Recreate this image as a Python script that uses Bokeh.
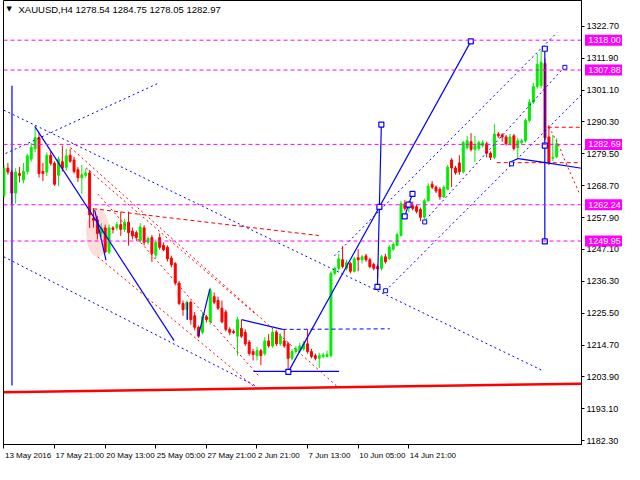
from bokeh.plotting import figure
from bokeh.models import FixedTicker, PrintfTickFormatter, Label, Range1d, Span, ColumnDataSource
from bokeh.core.properties import value
from bokeh.embed import file_html
from bokeh.resources import INLINE

# ---------------- data (XAUUSD H4) ----------------
opens = [
    1265.3, 1274.6, 1273.3, 1266.2, 1272.8, 1270.6, 1273.5, 1277.7, 1281.2, 1285.0,
    1273.5, 1273.3, 1279.0, 1276.3, 1272.2, 1276.8, 1274.9, 1279.0, 1277.4, 1274.1,
    1271.4, 1272.2, 1273.0, 1257.7, 1257.1, 1252.5, 1254.4, 1246.2, 1254.4, 1254.4,
    1255.5, 1253.9, 1256.3, 1253.3, 1252.8, 1250.1, 1254.4, 1249.5, 1251.1, 1245.2,
    1251.1, 1248.5, 1247.8, 1244.2, 1242.3, 1235.7, 1228.8, 1226.7, 1229.2, 1224.6,
    1220.7, 1219.0, 1224.3, 1222.6, 1231.1, 1229.8, 1227.2, 1225.9, 1220.0, 1219.3,
    1217.7, 1220.3, 1219.0, 1215.7, 1212.5, 1211.1, 1212.8, 1211.8, 1216.1, 1214.4,
    1219.0, 1215.1, 1216.1, 1215.1, 1210.2, 1212.5, 1212.8, 1213.4, 1215.1, 1212.5,
    1211.1, 1210.2, 1210.8, 1210.8, 1211.1, 1239.0, 1240.7, 1243.6, 1240.7, 1242.3,
    1239.7, 1244.3, 1243.6, 1244.9, 1243.6, 1242.0, 1241.3, 1240.7, 1244.6, 1243.9,
    1247.2, 1248.5, 1251.8, 1262.6, 1261.0, 1261.9, 1261.6, 1260.6, 1258.0, 1263.6,
    1269.2, 1268.2, 1267.5, 1264.9, 1267.5, 1277.4, 1274.7, 1276.4, 1273.4, 1281.6,
    1283.6, 1281.0, 1281.3, 1282.3, 1282.9, 1279.7, 1278.3, 1286.2, 1285.9, 1285.2,
    1282.9, 1285.6, 1281.6, 1283.3, 1283.9, 1290.8, 1297.0, 1302.3, 1302.6, 1310.1,
    1285.2, 1278.0, 1278.54]
highs = [
    1275.7, 1276.4, 1274.0, 1274.6, 1275.0, 1276.4, 1279.5, 1283.2, 1288.3, 1286.6,
    1276.4, 1280.0, 1280.3, 1277.0, 1278.5, 1282.3, 1281.2, 1281.2, 1278.5, 1275.0,
    1275.7, 1274.5, 1274.0, 1261.0, 1258.5, 1256.0, 1255.5, 1255.5, 1255.0, 1256.5,
    1259.9, 1257.5, 1259.9, 1254.5, 1253.5, 1256.0, 1255.3, 1251.5, 1252.0, 1250.5,
    1252.5, 1249.5, 1248.5, 1245.0, 1242.8, 1236.4, 1229.8, 1229.8, 1229.8, 1225.9,
    1221.3, 1225.9, 1224.9, 1234.1, 1232.5, 1231.1, 1229.8, 1226.6, 1220.7, 1220.0,
    1224.3, 1223.3, 1220.0, 1216.4, 1213.4, 1214.1, 1213.4, 1217.4, 1218.4, 1220.0,
    1219.7, 1218.7, 1220.0, 1215.7, 1213.4, 1214.4, 1215.4, 1216.1, 1220.0, 1213.4,
    1211.8, 1212.1, 1212.1, 1212.8, 1239.7, 1241.3, 1245.6, 1248.2, 1243.6, 1242.9,
    1244.6, 1247.2, 1245.2, 1245.6, 1244.3, 1242.6, 1242.0, 1245.2, 1245.6, 1248.5,
    1249.5, 1252.8, 1263.6, 1263.9, 1263.6, 1263.3, 1262.3, 1261.3, 1264.3, 1269.5,
    1270.3, 1268.8, 1268.2, 1268.8, 1275.7, 1278.0, 1275.4, 1279.0, 1283.9, 1285.6,
    1286.5, 1285.6, 1283.9, 1284.2, 1283.6, 1280.3, 1289.5, 1286.9, 1286.5, 1285.9,
    1286.2, 1286.2, 1284.9, 1284.6, 1291.5, 1298.0, 1303.6, 1313.4, 1314.4, 1311.8,
    1289.2, 1285.9, 1284.75]
lows = [
    1264.3, 1272.4, 1262.4, 1262.6, 1269.8, 1269.5, 1272.5, 1276.8, 1280.0, 1271.5,
    1270.3, 1272.0, 1275.5, 1268.6, 1268.6, 1273.5, 1273.8, 1276.5, 1272.8, 1270.0,
    1265.9, 1271.5, 1254.4, 1254.5, 1250.5, 1251.5, 1246.0, 1245.5, 1252.5, 1253.5,
    1251.7, 1253.0, 1248.4, 1250.5, 1250.0, 1249.5, 1248.5, 1248.8, 1242.9, 1244.0,
    1247.0, 1246.5, 1243.0, 1241.0, 1234.9, 1228.2, 1224.6, 1223.3, 1221.6, 1219.7,
    1217.1, 1218.4, 1222.3, 1221.6, 1228.5, 1226.6, 1222.0, 1219.3, 1218.0, 1218.4,
    1211.1, 1217.1, 1214.4, 1211.1, 1209.5, 1209.5, 1207.9, 1211.1, 1213.8, 1213.8,
    1214.4, 1214.4, 1213.8, 1205.9, 1209.5, 1211.8, 1212.1, 1212.8, 1211.8, 1210.2,
    1209.5, 1206.9, 1210.2, 1210.5, 1210.5, 1238.4, 1240.0, 1240.7, 1240.0, 1239.0,
    1239.3, 1239.7, 1242.3, 1242.9, 1240.7, 1240.0, 1237.4, 1240.0, 1242.3, 1243.6,
    1246.6, 1248.2, 1251.5, 1260.3, 1259.7, 1260.3, 1259.3, 1256.7, 1257.4, 1263.3,
    1267.5, 1266.2, 1263.9, 1264.6, 1267.2, 1268.2, 1272.4, 1272.4, 1272.8, 1280.9,
    1280.3, 1276.7, 1280.6, 1281.6, 1278.3, 1277.4, 1277.7, 1284.9, 1283.6, 1282.3,
    1282.3, 1280.6, 1278.0, 1282.6, 1283.3, 1290.1, 1296.4, 1301.6, 1301.6, 1284.2,
    1275.7, 1277.0, 1278.05]
closes = [
    1274.6, 1273.3, 1266.2, 1273.3, 1272.2, 1273.5, 1278.8, 1281.7, 1285.0, 1272.8,
    1272.8, 1279.0, 1276.3, 1269.2, 1277.7, 1274.6, 1278.8, 1277.0, 1273.5, 1271.4,
    1272.4, 1273.0, 1258.8, 1257.0, 1252.5, 1254.4, 1246.2, 1254.4, 1253.9, 1255.5,
    1253.9, 1256.3, 1252.8, 1251.7, 1251.1, 1254.7, 1249.5, 1250.8, 1245.7, 1249.5,
    1247.8, 1247.0, 1243.9, 1241.9, 1235.7, 1228.8, 1226.7, 1229.2, 1223.3, 1220.7,
    1217.7, 1224.3, 1223.3, 1233.1, 1229.2, 1227.2, 1222.6, 1220.0, 1219.0, 1218.9,
    1223.3, 1217.7, 1215.1, 1211.8, 1211.5, 1212.8, 1211.1, 1216.1, 1214.4, 1219.0,
    1215.1, 1217.7, 1214.4, 1210.2, 1212.5, 1213.4, 1214.4, 1215.1, 1212.5, 1210.8,
    1210.2, 1211.1, 1211.3, 1211.5, 1239.0, 1240.7, 1243.9, 1241.3, 1242.6, 1239.7,
    1243.9, 1243.6, 1244.6, 1243.6, 1241.3, 1240.7, 1240.5, 1244.6, 1242.9, 1247.9,
    1248.8, 1252.1, 1262.6, 1261.0, 1262.6, 1261.0, 1260.0, 1258.0, 1263.6, 1268.5,
    1268.2, 1266.9, 1264.9, 1268.2, 1275.0, 1274.7, 1273.1, 1273.4, 1283.3, 1283.9,
    1281.0, 1282.3, 1283.3, 1283.3, 1279.7, 1278.3, 1286.2, 1285.6, 1285.2, 1282.9,
    1285.2, 1281.3, 1283.9, 1283.9, 1290.8, 1297.0, 1302.3, 1309.8, 1310.5, 1284.9,
    1276.4, 1278.3, 1282.97]

price_ticks = [1322.70, 1311.90, 1301.10, 1290.30, 1279.50, 1268.70, 1257.90,
               1247.10, 1236.30, 1225.50, 1214.70, 1203.90, 1193.10, 1182.30]
time_tick_bars = [0, 13, 26, 39, 52, 65, 78, 91, 104]
time_tick_labels = ["13 May 2016", "17 May 21:00", "20 May 13:00", "25 May 05:00",
                    "27 May 21:00", "2 Jun 21:00", "7 Jun 13:00", "10 Jun 05:00",
                    "14 Jun 21:00"]
level_prices = [1318.00, 1307.88, 1282.69, 1262.24, 1249.95]
level_texts = ["1318.00", "1307.88", "1282.69", "1262.24", "1249.95"]
current_box_bottom = 1281.0
header_text = "XAUUSD,H4  1278.54 1284.75 1278.05 1282.97"

# drawn objects: (bar positions, prices)
blue_solid_x = [[2.05, 2.05], [7.9, 43.7], [23.3, 26.2], [47.1, 47.1], [49.95, 52.9],
                [61.05, 71.6], [64.1, 86.1], [73.05, 119.95], [96.95, 96.45, 95.95],
                [102.95, 103.95, 104.95], [138.95, 138.95], [130.1, 132.1, 139.1, 148.4]]
blue_solid_y = [[1302.6, 1201.0], [1288.8, 1216.2], [1260.4, 1243.5], [1229.2, 1223.3],
                [1217.8, 1233.7], [1223.3, 1220.0], [1205.8, 1205.8], [1205.6, 1317.6],
                [1289.4, 1261.5, 1234.4], [1258.3, 1262.3, 1265.9], [1315.1, 1249.8],
                [1276.7, 1277.9, 1276.5, 1274.6]]
blue_dot_x = [[-0.05, 138.6], [-0.05, 64.6], [0.4, 39.95], [84.9, 142.1], [108.3, 143.7], [98.05, 148.4]]
blue_dot_y = [[1294.3, 1205.9], [1244.6, 1200.9], [1279.6, 1303.6], [1244.9, 1320.6], [1257.1, 1308.5], [1233.1, 1299.6]]
blue_dash_x = [[71.6, 99.1]]
blue_dash_y = [[1220.0, 1220.2]]
red_dot_x = [[17.1, 85.9], [21.1, 64.6], [24.1, 65.4], [24.1, 65.4], [139.9, 140.9, 142.9, 144.6, 147.9]]
red_dot_y = [[1281.6, 1200.3], [1274.7, 1225.2], [1244.6, 1199.3], [1265.9, 1204.3],
             [1288.5, 1286.5, 1281.3, 1275.7, 1265.9]]
red_dash_x = [[22.9, 80.9], [139.7, 148.3], [126.6, 148.3]]
red_dash_y = [[1260.9, 1251.8], [1288.5, 1288.5], [1276.5, 1276.5]]
square_x = [73.05, 119.95, 96.95, 96.45, 95.95, 102.95, 103.95, 104.95, 138.95, 138.95, 138.95]
square_y = [1205.6, 1317.6, 1289.4, 1261.5, 1234.4, 1258.3, 1262.3, 1265.9, 1315.1, 1282.3, 1249.8]
bracket_x = [108.1, 98.05, 144.1, 130.4]
bracket_y = [1256.4, 1233.1, 1308.8, 1276.1]
ellipse_x, ellipse_y = [24.1], [1252.8]
support_x = [-0.125, 148.375]
support_y = [1198.7, 1201.6]

# ---------------- figure ----------------
FW, FH = 578, 444
X0, X1 = -0.125, 148.375
Y0, Y1 = 1181.0, 1331.45
p = figure(frame_width=FW, frame_height=FH,
           x_range=Range1d(X0, X1), y_range=Range1d(Y0, Y1),
           y_axis_location="right", output_backend="svg", toolbar_location=None,
           min_border_left=3, min_border_right=4, min_border_top=0, min_border_bottom=18,
           background_fill_color="white", border_fill_color="white")
p.grid.visible = False
p.outline_line_color = "black"
p.outline_line_width = 1

FONT = "Liberation Sans"
p.yaxis.ticker = FixedTicker(ticks=price_ticks)
p.yaxis.formatter = PrintfTickFormatter(format="%.2f")
p.yaxis.major_tick_out = 3
p.yaxis.major_tick_in = 0
p.yaxis.minor_tick_out = 0
p.yaxis.minor_tick_in = 0
p.yaxis.major_label_standoff = 2
p.yaxis.major_label_text_font = FONT
p.yaxis.major_label_text_font_size = "9px"
p.yaxis.major_label_text_color = "black"
p.yaxis.axis_line_color = "black"
p.yaxis.major_tick_line_color = "black"

p.xaxis.ticker = FixedTicker(ticks=time_tick_bars)
p.xaxis.major_label_overrides = {b: "" for b in time_tick_bars}
p.xaxis.major_tick_out = 4
p.xaxis.major_tick_in = 0
p.xaxis.minor_tick_out = 0
p.xaxis.minor_tick_in = 0
p.xaxis.major_label_standoff = 0
p.xaxis.axis_line_color = "black"
p.xaxis.major_tick_line_color = "black"

# highlighted ellipse (underneath)
p.ellipse(x=ellipse_x, y=ellipse_y, width=6, height=16.4, fill_color="#FBDDDA",
          line_color=None)

# level lines
for lvl in level_prices:
    p.add_layout(Span(location=lvl, dimension="width", line_color="#FF00FF",
                      line_dash="4 3", line_width=1))

# candles
idx = list(range(len(opens)))
UP, DOWN = "#00EE00", "#FF0000"
src = ColumnDataSource(dict(
    x=idx, h=highs, l=lows,
    top=[max(o, c) for o, c in zip(opens, closes)],
    bottom=[min(o, c) for o, c in zip(opens, closes)],
    color=[UP if c >= o else DOWN for o, c in zip(opens, closes)]))
p.segment(x0="x", y0="h", x1="x", y1="l", line_color="color", line_width=1, source=src)
p.vbar(x="x", width=0.5, top="top", bottom="bottom", fill_color="color",
       line_color="color", line_width=1, source=src)

# drawn lines
p.multi_line(blue_dot_x, blue_dot_y, line_color="#0000FF", line_width=1, line_dash="2 3")
p.multi_line(red_dot_x, red_dot_y, line_color="#FF0000", line_width=1, line_dash="2 3")
p.multi_line(red_dash_x, red_dash_y, line_color="#FF0000", line_width=1, line_dash="4 3")
p.multi_line(blue_dash_x, blue_dash_y, line_color="#0000FF", line_width=1, line_dash="4 3")
p.multi_line(blue_solid_x, blue_solid_y, line_color="#0000FF", line_width=1.2)
p.line(support_x, support_y, line_color="#FF0000", line_width=2.5)
p.scatter(square_x, square_y, marker="square", size=5, fill_color="white",
          line_color="#0000FF", line_width=1.2)
p.scatter(bracket_x, bracket_y, marker="square", size=4, fill_color="white",
          line_color="#0000FF", line_width=1)

# price level tags on the axis (annotation level so they sit over the axis area)
px_per_bar = FW / (X1 - X0)
tag_x = X1 + 23 / px_per_bar
p.segment(x0=[X1 + 3 / px_per_bar], y0=[current_box_bottom],
          x1=[X1 + 43 / px_per_bar], y1=[current_box_bottom],
          line_color="black", line_width=1, level="annotation")
p.rect(x=[tag_x] * len(level_prices), y=level_prices, width=39, height=11,
       width_units="screen", height_units="screen", fill_color="#FF00FF",
       line_color=None, level="annotation")
p.text(x=[tag_x] * len(level_prices), y=level_prices, text=level_texts,
       text_color="white", text_font=value(FONT), text_font_size=value("9px"),
       text_align="center", text_baseline="middle", level="annotation")

# time labels under the axis ticks
p.text(x=time_tick_bars, y=[Y0] * len(time_tick_bars), text=time_tick_labels,
       x_offset=1, y_offset=6, text_color="black", text_font=value(FONT),
       text_font_size=value("8px"), text_align="left", text_baseline="top",
       level="annotation")

# header
p.add_layout(Label(x=3, y=FH - 4, x_units="screen", y_units="screen", text="\u25bc",
                   text_font="DejaVu Sans", text_font_size="7px", text_baseline="top",
                   text_color="black"))
p.add_layout(Label(x=15, y=FH - 3, x_units="screen", y_units="screen", text=header_text,
                   text_font=FONT, text_font_size="9.5px", text_baseline="top",
                   text_color="black"))

open("out.html", "w").write(file_html(p, INLINE))
